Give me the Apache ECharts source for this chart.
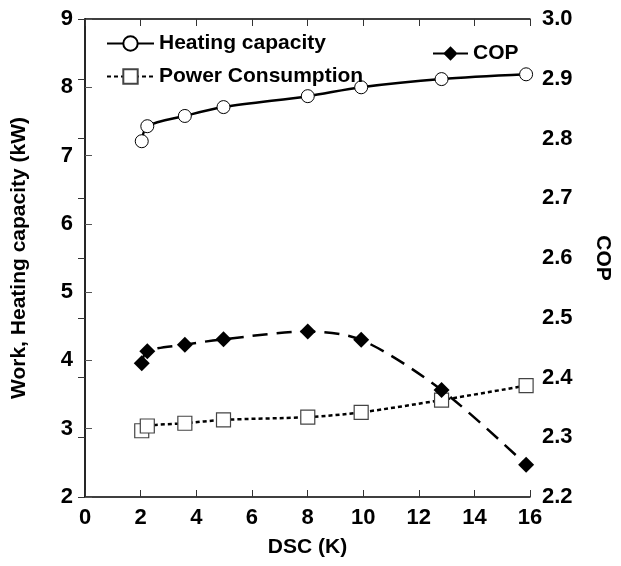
<!DOCTYPE html>
<html>
<head>
<meta charset="utf-8">
<script src="https://cdn.jsdelivr.net/npm/echarts@6/dist/echarts.min.js"></script>
<style>
html,body{margin:0;padding:0;background:#fff;}
#chart{width:621px;height:566px;}
</style>
</head>
<body>
<div id="chart"></div>
<script>
// DSC (K) values for each measured point
const dsc = [2.04, 2.24, 3.59, 4.98, 8.01, 9.93, 12.82, 15.86];
// Heating capacity (kW)
const heatingCapacity = [7.21, 7.43, 7.58, 7.71, 7.87, 8.00, 8.12, 8.19];
// Power consumption (kW)
const powerConsumption = [2.97, 3.04, 3.08, 3.13, 3.17, 3.24, 3.42, 3.63];
// COP
const cop = [2.424, 2.444, 2.455, 2.464, 2.477, 2.463, 2.379, 2.254];

const xTicks = {min: 0, max: 16, interval: 2};
const leftTicks = {min: 2, max: 9, interval: 1};
const rightTicks = {min: 2.2, max: 3.0, interval: 0.1};

const pair = (xs, ys) => xs.map((x, i) => [x, ys[i]]);

const FONT = '"Liberation Sans", Arial, sans-serif';
const labelStyle = {fontFamily: FONT, fontWeight: 'bold', fontSize: 22, color: '#000'};

const chart = echarts.init(document.getElementById('chart'), null, {renderer: 'canvas'});
chart.setOption({
  backgroundColor: '#fff',
  animation: false,
  grid: {left: 85, right: 83, top: 19, bottom: 69, containLabel: false},
  legend: [
    {
      orient: 'vertical', left: 101, top: 28, itemWidth: 47, itemHeight: 18, itemGap: 12,
      data: ['Heating capacity', 'Power Consumption'],
      textStyle: {fontFamily: FONT, fontWeight: 'bold', fontSize: 21, color: '#000'}
    },
    {
      orient: 'vertical', left: 427, top: 38, itemWidth: 35, itemHeight: 18,
      data: ['COP'],
      textStyle: {fontFamily: FONT, fontWeight: 'bold', fontSize: 21, color: '#000'}
    }
  ],
  xAxis: [
    {
      type: 'value', min: xTicks.min, max: xTicks.max, interval: xTicks.interval,
      position: 'bottom',
      name: 'DSC (K)', nameLocation: 'middle', nameGap: 40,
      nameTextStyle: {fontFamily: FONT, fontWeight: 'bold', fontSize: 21, color: '#000'},
      axisLine: {show: true, lineStyle: {color: '#000', width: 1.5}},
      axisTick: {show: true, inside: true, length: 7, lineStyle: {color: '#333'}},
      axisLabel: Object.assign({margin: 10}, labelStyle),
      splitLine: {show: false}
    },
    {
      type: 'value', min: xTicks.min, max: xTicks.max, interval: xTicks.interval,
      position: 'top',
      axisLine: {show: true, lineStyle: {color: '#000', width: 1.5}},
      axisTick: {show: true, inside: true, length: 7, lineStyle: {color: '#333'}},
      axisLabel: {show: false},
      splitLine: {show: false}
    }
  ],
  yAxis: [
    {
      type: 'value', min: leftTicks.min, max: leftTicks.max, interval: leftTicks.interval,
      position: 'left',
      name: 'Work, Heating capacity (kW)', nameLocation: 'middle', nameGap: 55, nameRotate: 90,
      nameTextStyle: {fontFamily: FONT, fontWeight: 'bold', fontSize: 21, color: '#000'},
      axisLine: {show: true, lineStyle: {color: '#777', width: 1.5}},
      axisTick: {show: true, inside: true, length: 7, lineStyle: {color: '#555'}},
      axisLabel: Object.assign({margin: 12}, labelStyle),
      splitLine: {show: false}
    },
    {
      type: 'value', min: rightTicks.min, max: rightTicks.max, interval: rightTicks.interval,
      position: 'right',
      name: 'COP', nameLocation: 'middle', nameGap: 62, nameRotate: -90,
      nameTextStyle: {fontFamily: FONT, fontWeight: 'bold', fontSize: 21, color: '#000'},
      axisLine: {show: true, lineStyle: {color: '#000', width: 1.5}},
      axisTick: {show: true, inside: true, length: 7, lineStyle: {color: '#333'}},
      axisLabel: Object.assign({margin: 12, formatter: v => v.toFixed(1)}, labelStyle),
      splitLine: {show: false}
    }
  ],
  series: [
    {
      name: 'Heating capacity', type: 'line', xAxisIndex: 0, yAxisIndex: 0,
      data: pair(dsc, heatingCapacity), smooth: 0.3,
      symbol: 'circle', symbolSize: 13,
      lineStyle: {color: '#000', width: 2.5, type: 'solid'},
      itemStyle: {color: '#fff', borderColor: '#000', borderWidth: 1}
    },
    {
      name: 'Power Consumption', type: 'line', xAxisIndex: 0, yAxisIndex: 0,
      data: pair(dsc, powerConsumption), smooth: 0.3,
      symbol: 'rect', symbolSize: 14,
      lineStyle: {color: '#000', width: 2.5, type: [4, 3]},
      itemStyle: {color: '#fff', borderColor: '#444', borderWidth: 1.2}
    },
    {
      name: 'COP', type: 'line', xAxisIndex: 0, yAxisIndex: 1,
      data: pair(dsc, cop), smooth: 0.3,
      symbol: 'diamond', symbolSize: 16,
      lineStyle: {color: '#000', width: 2.5, type: [15, 9]},
      itemStyle: {color: '#000', borderColor: '#000', borderWidth: 0}
    }
  ]
});
</script>
</body>
</html>
